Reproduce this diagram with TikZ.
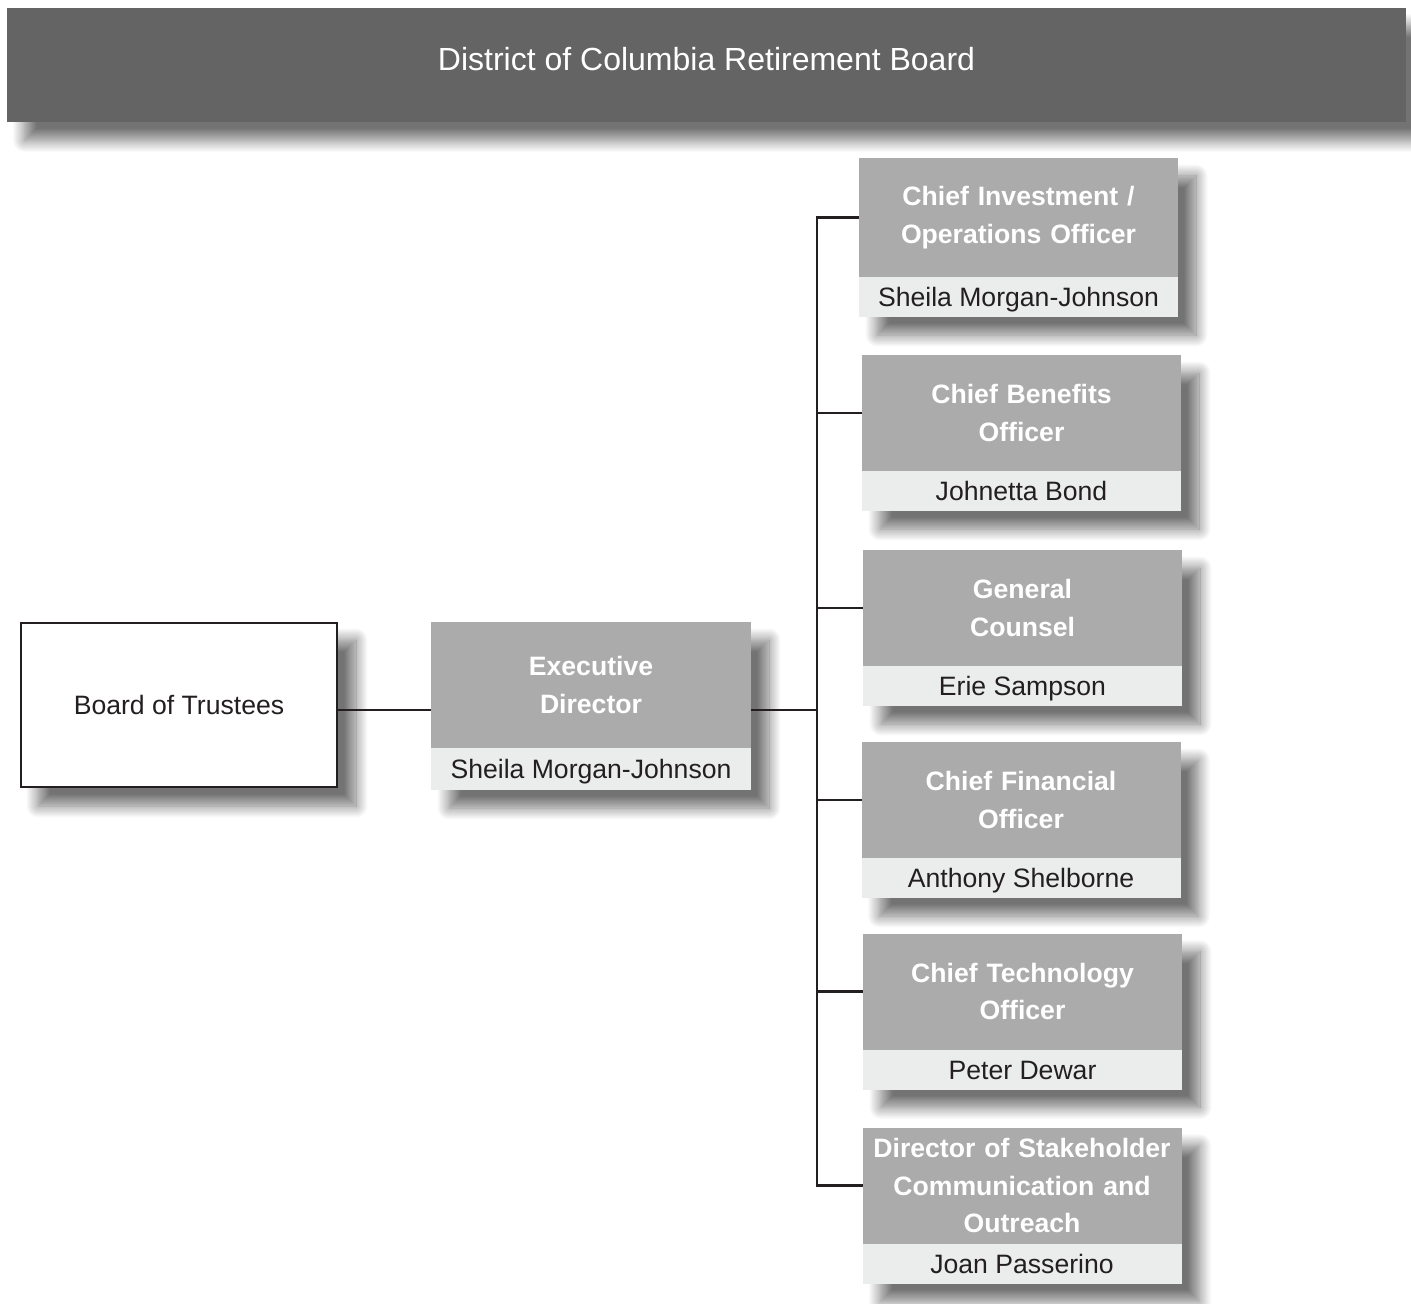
\documentclass[tikz,border=0pt]{standalone}
\usepackage{fontspec}
\setmainfont{Liberation Sans}
\usetikzlibrary{positioning,shadows.blur,backgrounds}
\definecolor{bargrey}{HTML}{646464}
\definecolor{rolegrey}{HTML}{ABABAB}
\definecolor{namegrey}{HTML}{EBEDEC}
\definecolor{inkblack}{HTML}{231F20}

\begin{document}
\begin{tikzpicture}[x=0.5pt,y=-0.5pt,
  boxshadow/.style={blur shadow={shadow xshift=9pt,shadow yshift=-9pt,shadow blur radius=6pt,
    shadow blur steps=16,shadow opacity=55}},
  rolebox/.style={fill=rolegrey,text=white,font=\bfseries\fontsize{13.3pt}{18.75pt}\selectfont,
    align=center,text width=155pt,minimum width=159.5pt,minimum height=58pt,inner sep=0pt,outer sep=0pt},
  personbox/.style={fill=namegrey,text=inkblack,font=\fontsize{13.3pt}{16pt}\selectfont,
    text height=9.5pt,text depth=0pt,
    minimum width=159.5pt,minimum height=20pt,inner sep=0pt,outer sep=0pt,below=0pt of #1},
  link/.style={line width=1.2pt,inkblack}]
\useasboundingbox (0,0) rectangle (1411,1304);

\node[fill=bargrey,text=white,font=\fontsize{16pt}{19pt}\selectfont,minimum width=699.5pt,
  minimum height=57pt,text depth=6pt,inner sep=0pt] (title) at (706.5,65) {District of Columbia Retirement Board};

\node[draw=inkblack,line width=1pt,fill=white,text=inkblack,font=\fontsize{13.3pt}{16pt}\selectfont,
  minimum width=158pt,minimum height=82pt] (board) at (179,705) {Board of Trustees};

\node[rolebox,minimum width=160pt,minimum height=63pt] (exec) at (591,685) {Executive\\Director};
\node[personbox=exec,minimum width=160pt,minimum height=21pt] (execname) {Sheila Morgan-Johnson};

\node[rolebox,minimum height=59.5pt] (cio) at (1018.5,217.5) {Chief Investment /\\Operations Officer};
\node[personbox=cio] (cioname) {Sheila Morgan-Johnson};
\node[rolebox] (cbo) at (1021.5,413) {Chief Benefits\\Officer};
\node[personbox=cbo] (cboname) {Johnetta Bond};
\node[rolebox] (gc) at (1022.5,608) {General\\Counsel};
\node[personbox=gc] (gcname) {Erie Sampson};
\node[rolebox] (cfo) at (1021,800) {Chief Financial\\Officer};
\node[personbox=cfo] (cfoname) {Anthony Shelborne};
\node[rolebox] (cto) at (1022.5,991.5) {Chief Technology\\Officer};
\node[personbox=cto] (ctoname) {Peter Dewar};
\node[rolebox] (dso) at (1022,1185.5) {Director of Stakeholder\\Communication and\\Outreach};
\node[personbox=dso] (dsoname) {Joan Passerino};

% shadows behind the boxes
\begin{scope}[on background layer]
\fill[white,boxshadow] (title.north west) rectangle (title.south east);
\fill[white,boxshadow] (board.north west) rectangle (board.south east);
\fill[white,boxshadow] (exec.north west) rectangle (execname.south east);
\fill[white,boxshadow] (cio.north west) rectangle (cioname.south east);
\fill[white,boxshadow] (cbo.north west) rectangle (cboname.south east);
\fill[white,boxshadow] (gc.north west) rectangle (gcname.south east);
\fill[white,boxshadow] (cfo.north west) rectangle (cfoname.south east);
\fill[white,boxshadow] (cto.north west) rectangle (ctoname.south east);
\fill[white,boxshadow] (dso.north west) rectangle (dsoname.south east);
\end{scope}

\coordinate (trunk) at (817,710);
\draw[link] (board.east |- trunk) -- (exec.west |- trunk);
\draw[link] (exec.east |- trunk) -- (trunk);
\draw[link] (trunk) |- (cio.west);
\draw[link] (trunk) |- (cbo.west);
\draw[link] (trunk) |- (gc.west);
\draw[link] (trunk) |- (cfo.west);
\draw[link] (trunk) |- (cto.west);
\draw[link] (trunk) |- (dso.west);
\end{tikzpicture}
\end{document}
